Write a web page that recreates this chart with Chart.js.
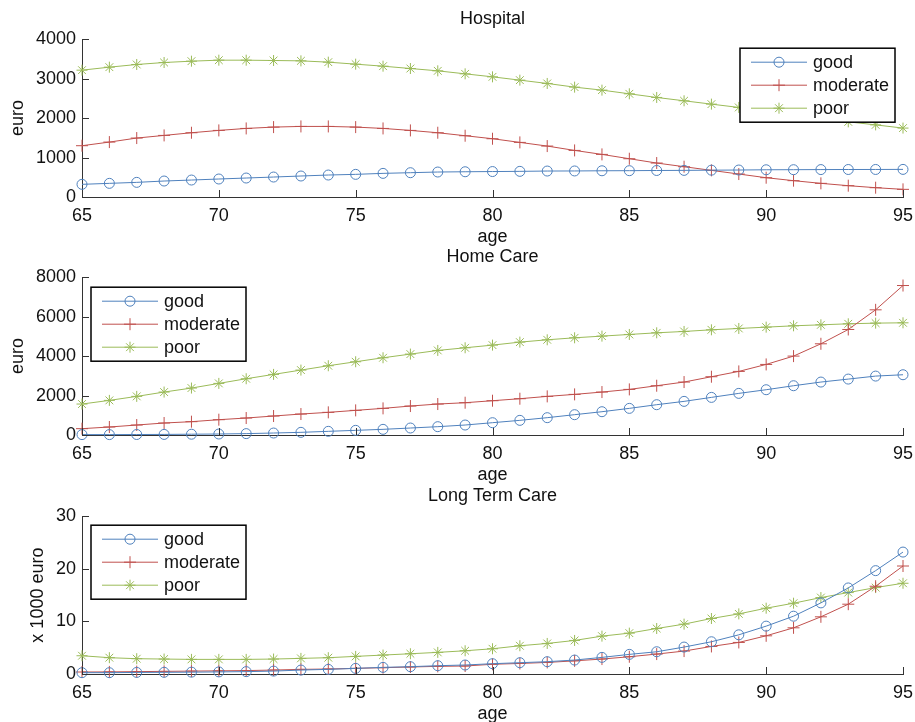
<!DOCTYPE html>
<html>
<head>
<meta charset="utf-8">
<script src="https://cdn.jsdelivr.net/npm/chart.js@4.4.1/dist/chart.umd.min.js"></script>
<style>
	html, body { margin: 0; padding: 0; background: #fff; overflow: hidden; }
	#wrap { position: relative; width: 915px; height: 722px; overflow: hidden; }
	.panel { position: absolute; left: 0; width: 915px; height: 248px; }
</style>
</head>
<body>
<div id="wrap">
	<div class="panel" style="top:0px"><canvas id="hospital" width="915" height="248"></canvas></div>
	<div class="panel" style="top:238px"><canvas id="homeCare" width="915" height="248"></canvas></div>
	<div class="panel" style="top:477px"><canvas id="longTerm" width="915" height="248"></canvas></div>
</div>
<script>
// ages on the x axis
const ages = [65, 66, 67, 68, 69, 70, 71, 72, 73, 74, 75, 76, 77, 78, 79, 80,
	81, 82, 83, 84, 85, 86, 87, 88, 89, 90, 91, 92, 93, 94, 95];
const seriesNames = ['good', 'moderate', 'poor'];

// Hospital (euro)
const hospitalGood = [321, 346, 371, 405, 430, 456, 481, 506, 532, 557, 574, 599, 616, 633, 640, 645,
	650, 658, 660, 665, 667, 672, 675, 680, 684, 690, 692, 695, 697, 698, 700];
const hospitalModerate = [1300, 1392, 1494, 1561, 1629, 1688, 1738, 1772, 1789, 1789, 1772, 1738, 1688, 1629, 1553, 1477,
	1384, 1291, 1181, 1080, 970, 861, 768, 675, 582, 489, 414, 346, 287, 236, 194];
const hospitalPoor = [3215, 3291, 3359, 3409, 3443, 3468, 3468, 3460, 3451, 3418, 3367, 3316, 3257, 3198, 3122, 3046,
	2962, 2878, 2785, 2709, 2616, 2523, 2439, 2354, 2270, 2185, 2100, 2015, 1905, 1828, 1747];

// Home Care (euro)
const homeGood = [20, 20, 25, 30, 40, 50, 70, 100, 135, 186, 236, 287, 354, 422, 506, 624,
	743, 878, 1030, 1181, 1350, 1536, 1705, 1907, 2110, 2295, 2498, 2684, 2835, 2987, 3055];
const homeModerate = [321, 405, 506, 608, 675, 776, 861, 962, 1063, 1148, 1249, 1350, 1468, 1570, 1637, 1738,
	1840, 1958, 2059, 2177, 2312, 2498, 2684, 2954, 3224, 3578, 4000, 4624, 5350, 6346, 7578];
const homePoor = [1570, 1755, 1958, 2177, 2380, 2616, 2852, 3072, 3291, 3511, 3713, 3916, 4101, 4287, 4422, 4557,
	4709, 4827, 4928, 5013, 5097, 5181, 5249, 5333, 5401, 5468, 5536, 5586, 5637, 5671, 5688];

// Long Term Care (x 1000 euro)
const ltcGood = [0.25, 0.25, 0.3, 0.32, 0.35, 0.4, 0.45, 0.55, 0.75, 0.88, 1.07, 1.26, 1.39, 1.58, 1.71, 1.96,
	2.15, 2.34, 2.65, 3.16, 3.73, 4.23, 5.12, 6.13, 7.45, 9.1, 10.99, 13.52, 16.36, 19.65, 23.18];
const ltcModerate = [0.38, 0.4, 0.45, 0.5, 0.55, 0.6, 0.65, 0.75, 0.88, 0.95, 1.07, 1.2, 1.33, 1.45, 1.52, 1.85,
	2.0, 2.2, 2.5, 2.84, 3.28, 3.79, 4.36, 5.24, 6.0, 7.26, 8.78, 10.87, 13.27, 16.68, 20.53];
const ltcPoor = [3.47, 3.1, 2.91, 2.84, 2.78, 2.78, 2.78, 2.84, 2.97, 3.1, 3.35, 3.6, 3.85, 4.11, 4.42, 4.8,
	5.37, 5.81, 6.38, 7.2, 7.77, 8.65, 9.48, 10.55, 11.43, 12.51, 13.46, 14.53, 15.48, 16.43, 17.25];

// y tick settings per panel
const hospitalTicks = [0, 1000, 2000, 3000, 4000];
const homeTicks = [0, 2000, 4000, 6000, 8000];
const ltcTicks = [0, 10, 20, 30];

const FONT = "'Liberation Sans', Arial, Helvetica, sans-serif";
const SIZE = 18;
const TEXT = '#111';
const AXIS = '#333';
const looks = [
	{ color: '#4F81BD', pointStyle: 'circle', radius: 5 },
	{ color: '#C0504D', pointStyle: 'cross', radius: 6 },
	{ color: '#9BBB59', pointStyle: 'star', radius: 5.5 },
];

// inward tick marks, like the original figure
const innerTicks = {
	id: 'innerTicks',
	afterDraw(chart) {
		const { ctx, chartArea } = chart;
		const x = chart.scales.x;
		const y = chart.scales.y;
		ctx.save();
		ctx.strokeStyle = AXIS;
		ctx.lineWidth = 1;
		ctx.beginPath();
		x.ticks.forEach((t) => {
			const px = Math.round(x.getPixelForValue(t.value)) + 0.5;
			ctx.moveTo(px, chartArea.bottom);
			ctx.lineTo(px, chartArea.bottom - 7);
		});
		y.ticks.forEach((t) => {
			const py = Math.round(y.getPixelForValue(t.value)) + 0.5;
			ctx.moveTo(chartArea.left, py);
			ctx.lineTo(chartArea.left + 7, py);
		});
		ctx.stroke();
		ctx.restore();
	},
};

// boxed legend inside the plot area
const boxLegend = {
	id: 'boxLegend',
	afterDraw(chart, args, opts) {
		const { ctx, chartArea } = chart;
		const w = 155;
		const h = 74;
		const left = opts.side === 'right' ? chartArea.right - 8 - w : chartArea.left + 9;
		const top = chartArea.top + opts.top;
		ctx.save();
		ctx.fillStyle = '#fff';
		ctx.fillRect(left, top, w, h);
		ctx.strokeStyle = '#000';
		ctx.lineWidth = 1.5;
		ctx.strokeRect(left, top, w, h);
		chart.data.datasets.forEach((ds, i) => {
			const cy = top + 14 + i * 23;
			ctx.strokeStyle = ds.borderColor;
			ctx.lineWidth = 1;
			ctx.beginPath();
			ctx.moveTo(left + 11, cy);
			ctx.lineTo(left + 67, cy);
			ctx.stroke();
			ctx.fillStyle = 'rgba(0,0,0,0)';
			Chart.helpers.drawPoint(ctx, {
				pointStyle: ds.pointStyle,
				radius: ds.pointRadius,
				rotation: 0,
				borderWidth: 1,
			}, left + 39, cy);
			ctx.fillStyle = TEXT;
			ctx.font = SIZE + 'px ' + FONT;
			ctx.textBaseline = 'middle';
			ctx.textAlign = 'left';
			ctx.fillText(ds.label, left + 73, cy + 1);
		});
		ctx.restore();
	},
};

function makePanel(id, title, yTitle, yTitlePad, yTicks, series, legend) {
	new Chart(document.getElementById(id), {
		type: 'line',
		data: {
			datasets: series.map((values, i) => ({
				label: seriesNames[i],
				data: ages.map((a, k) => ({ x: a, y: values[k] })),
				borderColor: looks[i].color,
				borderWidth: 1,
				pointStyle: looks[i].pointStyle,
				pointRadius: looks[i].radius,
				pointBorderColor: looks[i].color,
				pointBackgroundColor: 'rgba(0,0,0,0)',
				pointBorderWidth: 1,
				tension: 0,
				clip: false,
			})),
		},
		options: {
			responsive: false,
			animation: false,
			devicePixelRatio: 1,
			layout: {
				padding: { left: 0, right: 12, top: 0, bottom: 0 },
			},
			plugins: {
				legend: { display: false },
				tooltip: { enabled: false },
				title: {
					display: true,
					text: title,
					fullSize: false,
					color: TEXT,
					font: { family: FONT, size: SIZE, weight: 'normal' },
					padding: { top: 8, bottom: 9.6 },
				},
				boxLegend: legend,
			},
			scales: {
				x: {
					type: 'linear',
					min: 65,
					max: 95,
					afterFit: (s) => {
						s.height = 51;
						s.paddingLeft = 0;
						s.paddingRight = 0;
					},
					ticks: {
						stepSize: 5,
						color: TEXT,
						padding: 8,
						font: { family: FONT, size: SIZE },
					},
					grid: { display: false, drawTicks: false },
					border: { display: true, color: AXIS, width: 1 },
					title: {
						display: true,
						text: 'age',
						color: TEXT,
						font: { family: FONT, size: SIZE },
						padding: { top: 0, bottom: 0 },
					},
				},
				y: {
					min: yTicks[0],
					max: yTicks[yTicks.length - 1],
					afterFit: (s) => { s.width = 82; },
					afterBuildTicks: (s) => { s.ticks = yTicks.map((v) => ({ value: v })); },
					ticks: {
						color: TEXT,
						padding: 6,
						font: { family: FONT, size: SIZE },
						callback: (v) => String(v),
					},
					grid: { display: false, drawTicks: false },
					border: { display: true, color: AXIS, width: 1 },
					title: {
						display: true,
						text: yTitle,
						color: TEXT,
						font: { family: FONT, size: SIZE },
						padding: { top: yTitlePad, bottom: 0 },
					},
				},
			},
		},
		plugins: [innerTicks, boxLegend],
	});
}

makePanel('hospital', 'Hospital', 'euro', 7, hospitalTicks,
	[hospitalGood, hospitalModerate, hospitalPoor], { side: 'right', top: 9 });
makePanel('homeCare', 'Home Care', 'euro', 7, homeTicks,
	[homeGood, homeModerate, homePoor], { side: 'left', top: 10 });
makePanel('longTerm', 'Long Term Care', 'x 1000 euro', 27, ltcTicks,
	[ltcGood, ltcModerate, ltcPoor], { side: 'left', top: 9 });
</script>
</body>
</html>
